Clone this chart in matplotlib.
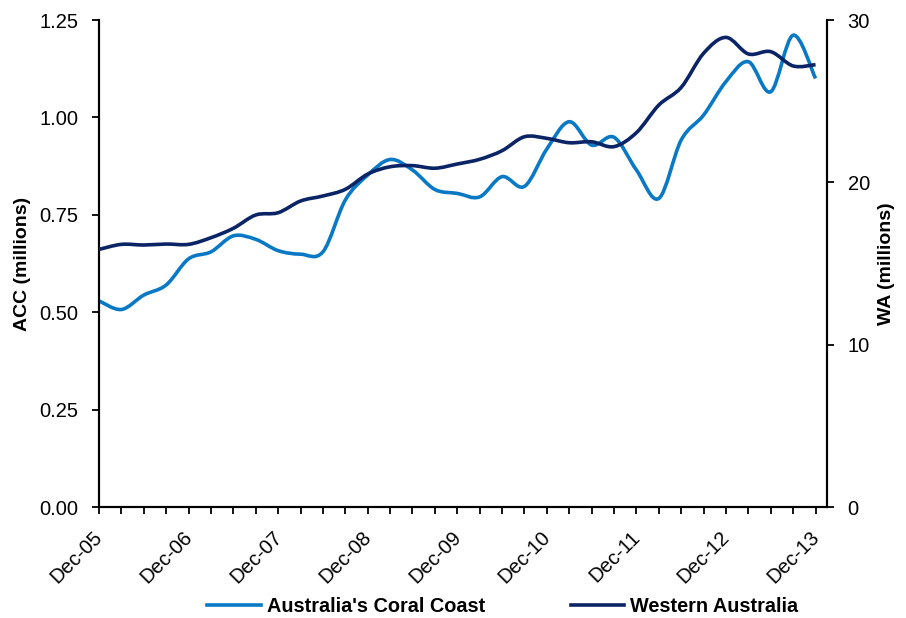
import numpy as np
import matplotlib
matplotlib.use("Agg")
import matplotlib.pyplot as plt
import matplotlib.transforms as mtransforms
from matplotlib.path import Path
from matplotlib.patches import PathPatch
from matplotlib.lines import Line2D

# quarterly series, Dec-05 .. Dec-13
quarters = np.arange(33)
tick_labels = ["Dec-05", "Dec-06", "Dec-07", "Dec-08", "Dec-09",
               "Dec-10", "Dec-11", "Dec-12", "Dec-13"]

acc = [0.529, 0.507, 0.544, 0.570, 0.637, 0.655, 0.696, 0.687, 0.658,
       0.649, 0.655, 0.788, 0.852, 0.892, 0.865, 0.815, 0.805, 0.796,
       0.848, 0.823, 0.919, 0.989, 0.929, 0.949, 0.865, 0.792, 0.942,
       1.006, 1.092, 1.143, 1.066, 1.211, 1.100]

wa = [15.87, 16.18, 16.14, 16.20, 16.18, 16.59, 17.17, 17.99, 18.13,
      18.85, 19.16, 19.57, 20.51, 20.96, 21.03, 20.87, 21.13, 21.42,
      21.95, 22.81, 22.71, 22.44, 22.50, 22.20, 23.06, 24.76, 25.85,
      27.95, 28.93, 27.91, 28.05, 27.17, 27.25]

LIGHT = "#0979C6"
DARK = "#0B2466"


def smooth_path(x, y):
    # Excel style smoothed line: catmull-rom segments as cubic beziers
    pts = np.column_stack([x, y]).astype(float)
    n = len(pts)
    verts = [pts[0]]
    codes = [Path.MOVETO]
    for i in range(n - 1):
        p_prev = pts[max(i - 1, 0)]
        p0 = pts[i]
        p1 = pts[i + 1]
        p_next = pts[min(i + 2, n - 1)]
        c1 = p0 + (p1 - p_prev) / 6.0
        c2 = p1 - (p_next - p0) / 6.0
        verts += [c1, c2, p1]
        codes += [Path.CURVE4] * 3
    return Path(verts, codes)


plt.rcParams["font.family"] = ["Liberation Sans", "DejaVu Sans"]

fig = plt.figure(figsize=(9.06, 6.18), dpi=100)
ax = fig.add_axes([0.1093, 0.1796, 0.8032, 0.7880])
ax2 = ax.twinx()

ax.add_patch(PathPatch(smooth_path(quarters, acc), fill=False,
                       edgecolor=LIGHT, lw=2.6, capstyle="butt",
                       transform=ax.transData, zorder=3))
ax2.add_patch(PathPatch(smooth_path(quarters, wa), fill=False,
                        edgecolor=DARK, lw=2.6, capstyle="butt",
                        transform=ax2.transData, zorder=3))

ax.set_xlim(0, 32.5)
ax.set_ylim(0, 1.25)
ax2.set_ylim(0, 30)

ax.set_yticks(np.arange(0, 1.26, 0.25))
ax.set_yticklabels(["%.2f" % v for v in np.arange(0, 1.26, 0.25)])
ax2.set_yticks([0, 10, 20, 30])
ax2.set_yticklabels(["0", "10", "20", "30"])

ax.set_xticks(quarters)
ax.set_xticklabels([tick_labels[i // 4] if i % 4 == 0 else "" for i in quarters],
                   rotation=45, ha="right", va="top", rotation_mode="anchor")

for a in (ax, ax2):
    a.spines["top"].set_visible(False)
    for s in a.spines.values():
        s.set_linewidth(1.5)
        s.set_color("black")
    a.tick_params(direction="out", length=5, width=1.3, labelsize=14.5,
                  colors="black")
ax.tick_params(axis="x", pad=10)
ax.tick_params(axis="y", pad=10)
ax2.tick_params(axis="y", pad=10)

# nudge the rotated date labels a little to the left, like the original
shift = mtransforms.ScaledTranslation(-6 / 100, 0, fig.dpi_scale_trans)
for lab in ax.get_xticklabels():
    lab.set_transform(lab.get_transform() + shift)

ax.set_ylabel("ACC (millions)", fontsize=14, fontweight="bold", labelpad=6)
ax2.set_ylabel("WA (millions)", fontsize=14, fontweight="bold", labelpad=6)

handles = [Line2D([], [], color=LIGHT, lw=2.6),
           Line2D([], [], color=DARK, lw=2.6)]
fig.legend(handles, ["Australia's Coral Coast", "Western Australia"],
           loc="lower center", bbox_to_anchor=(0.555, -0.026), ncol=2,
           frameon=False, handlelength=2.7, handletextpad=0.3,
           columnspacing=4.3, prop={"size": 14.3, "weight": "bold"})

fig.savefig("out.png", dpi=100)
